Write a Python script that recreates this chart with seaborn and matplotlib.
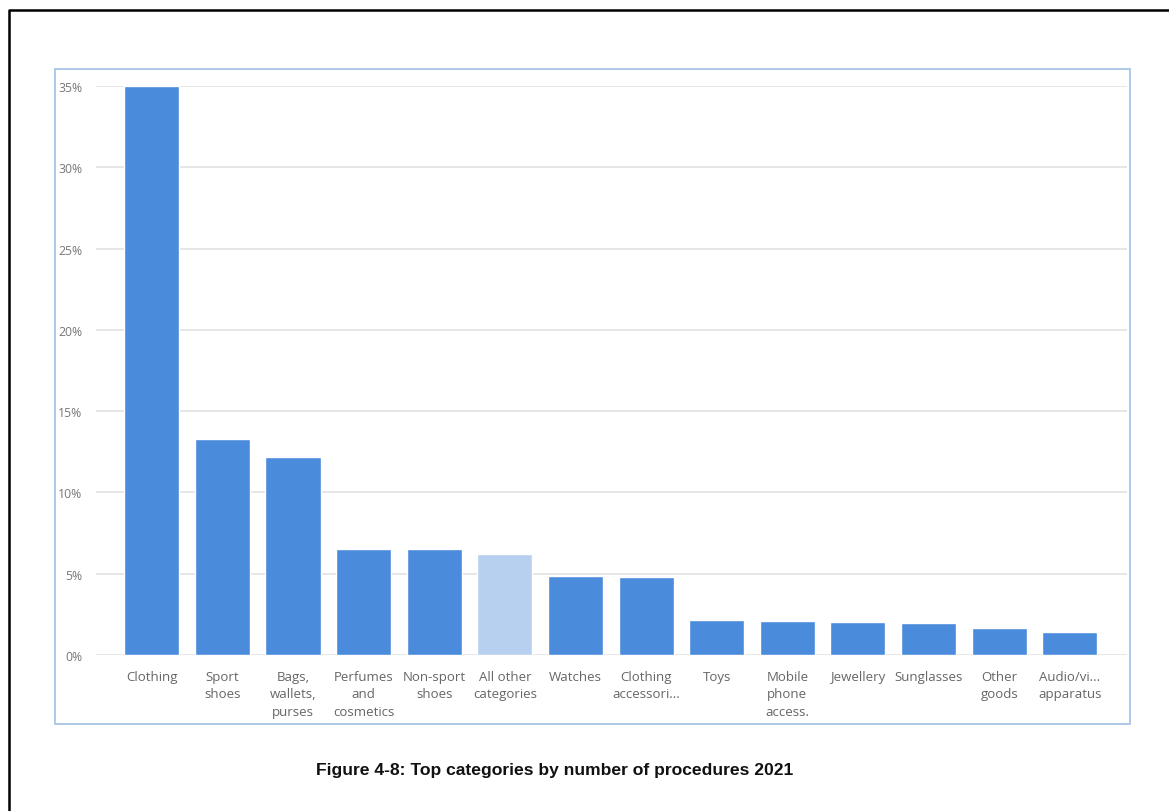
import matplotlib
matplotlib.use("Agg")
import matplotlib.pyplot as plt
from matplotlib.patches import Rectangle
from matplotlib.lines import Line2D
from matplotlib.ticker import FuncFormatter, MultipleLocator
import seaborn as sns
import pandas as pd

# Share of procedures per product category, 2021 (%)
categories = [
    "Clothing", "Sport\nshoes", "Bags,\nwallets,\npurses", "Perfumes\nand\ncosmetics",
    "Non-sport\nshoes", "All other\ncategories", "Watches", "Clothing\naccessori...",
    "Toys", "Mobile\nphone\naccess.", "Jewellery", "Sunglasses", "Other\ngoods",
    "Audio/vi...\napparatus",
]
shares = [35.0, 13.3, 12.2, 6.5, 6.5, 6.2, 4.85, 4.8, 2.15, 2.07, 2.0, 1.95, 1.68, 1.39]
highlight = "All other\ncategories"

BLUE = "#4a8bdb"
LIGHT = "#b7d0ef"

sns.set_theme(style="white")
plt.rcParams["font.family"] = ["Open Sans", "DejaVu Sans"]

df = pd.DataFrame({"category": categories, "share": shares})
palette = {c: (LIGHT if c == highlight else BLUE) for c in categories}

fig = plt.figure(figsize=(11.69, 8.12), dpi=100)
fig.patch.set_facecolor("white")
W, H = 1169, 812
ax = fig.add_axes([96 / W, 1 - 656 / H, (1127 - 96) / W, (656 - 87) / H])

sns.barplot(data=df, x="category", y="share", hue="category", palette=palette,
            legend=False, width=0.78, saturation=1, ax=ax, zorder=3)

ax.set_ylim(0, 35)
ax.set_xlim(-0.5 - 0.29, len(categories) - 0.5 + 0.31)
ax.yaxis.set_major_locator(MultipleLocator(5))
ax.yaxis.set_major_formatter(FuncFormatter(lambda v, _: f"{v:.0f}%"))
ax.grid(axis="y", color="#e2e2e2", linewidth=1.2, zorder=0)
ax.set_axisbelow(True)
for s in ax.spines.values():
    s.set_visible(False)
ax.set_xlabel("")
ax.set_ylabel("")
ax.tick_params(axis="x", length=0, pad=10.5, labelsize=9.5, labelcolor="#666666")
ax.tick_params(axis="y", length=0, pad=10, labelsize=8.8, labelcolor="#777777")
for lab in ax.get_xticklabels():
    lab.set_linespacing(1.45)
    lab.set_verticalalignment("top")

# chart frame
fig.add_artist(Rectangle((55 / W, 1 - 725 / H), (1130 - 55) / W, (725 - 70) / H,
                         transform=fig.transFigure, fill=False,
                         edgecolor="#adc9e8", linewidth=1.4))
# page border
fig.add_artist(Line2D([8.5 / W, 8.5 / W, 1.0], [0.0, 1 - 10.5 / H, 1 - 10.5 / H],
                      transform=fig.transFigure, color="black", linewidth=1.8))

fig.text(555 / W, 1 - 771 / H, "Figure 4-8: Top categories by number of procedures 2021",
         ha="center", va="center", fontsize=12.6, fontweight="bold",
         family=["Liberation Sans", "DejaVu Sans"], color="#111111")

fig.savefig("out.png", dpi=100)
